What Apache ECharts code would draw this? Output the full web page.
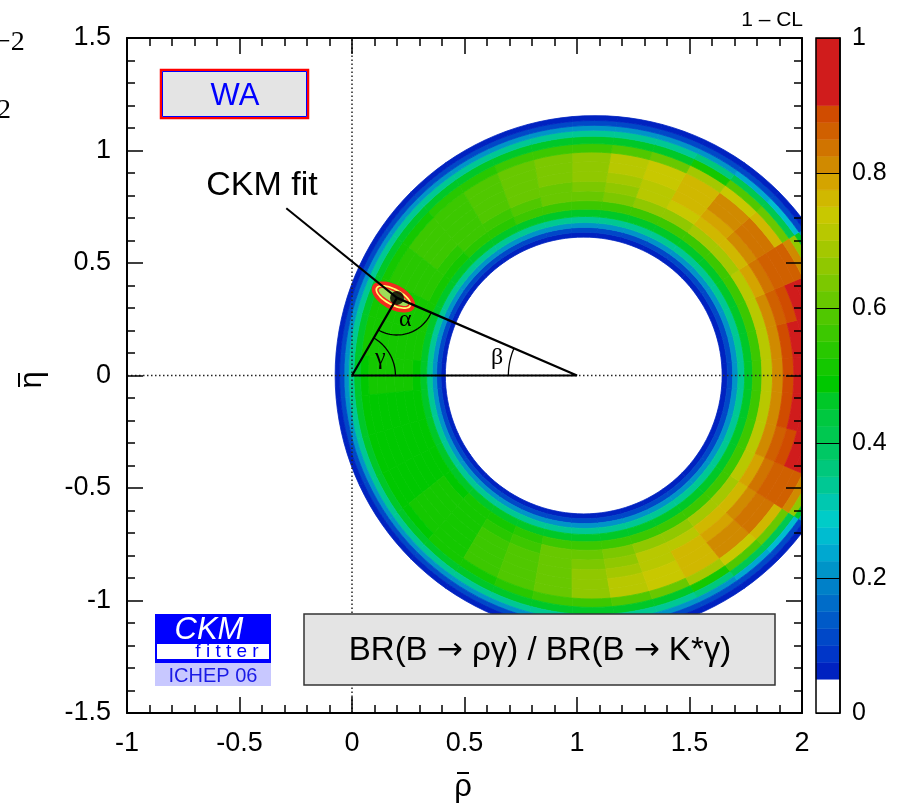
<!DOCTYPE html>
<html><head><meta charset="utf-8">
<script src="https://cdn.jsdelivr.net/npm/echarts@6/dist/echarts.min.js"></script>
<style>html,body{margin:0;padding:0;background:#fff}#c{width:909px;height:803px}</style>
</head><body><div id="c"></div>
<script>
// ---------------- data ----------------
const xRange = [-1, 2];
const yRange = [-1.5, 1.5];
const tickStep = 0.5;
// ring (BR ratio constraint) : boundaries in (rho, eta) plane [centreRho, centreEta, radius]
const innerBoundary = [1.03, 0, 0.615];
const outerBoundary = [1.08, 0, 1.155];
// sectors (deg, centre of sector) and radial bands (fraction inner->outer)
const ringSectorAngles = [0,10,20,30,40,50,60,70,80,90,100,110,120,130,140,150,160,170,180,190,200,210,220,230,240,250,260,270,280,290,300,310,320,330,340,350];
const ringBandEdges = [0,.04,.08,.12,.17,.23,.30,.38,.46,.54,.62,.70,.77,.83,.88,.92,.96,1.0];
// 1 - CL read per sector (rows) and band (columns)
const ringCL = [
 [.07,.10,.20,.33,.45,.57,.70,.80,.89,.93,.95,.96,.95,.88,.70,.40,.12],
 [.07,.10,.20,.33,.45,.57,.70,.80,.88,.92,.94,.95,.93,.85,.65,.35,.12],
 [.07,.10,.20,.33,.45,.57,.70,.80,.86,.89,.91,.92,.88,.75,.55,.28,.10],
 [.07,.10,.20,.33,.45,.57,.70,.78,.83,.86,.87,.86,.80,.65,.45,.22,.09],
 [.07,.10,.20,.33,.45,.57,.69,.76,.80,.83,.84,.75,.60,.42,.25,.12,.07],
 [.07,.10,.20,.33,.45,.57,.68,.75,.79,.81,.81,.74,.58,.40,.23,.11,.07],
 [.07,.10,.20,.33,.45,.57,.67,.73,.76,.77,.76,.68,.52,.37,.22,.10,.07],
 [.07,.10,.20,.33,.45,.57,.66,.70,.72,.74,.73,.62,.47,.34,.20,.10,.07],
 [.07,.10,.20,.33,.45,.57,.64,.67,.69,.70,.70,.58,.45,.33,.20,.10,.07],
 [.07,.10,.20,.33,.45,.57,.62,.64,.66,.67,.67,.57,.45,.33,.20,.10,.07],
 [.07,.10,.20,.33,.45,.56,.60,.62,.63,.64,.64,.56,.45,.33,.20,.10,.07],
 [.07,.10,.20,.33,.45,.55,.58,.60,.61,.61,.61,.55,.45,.33,.20,.10,.07],
 [.07,.10,.20,.33,.45,.54,.57,.58,.59,.59,.59,.54,.45,.33,.20,.10,.07],
 [.07,.10,.20,.33,.45,.53,.55,.56,.57,.57,.57,.53,.45,.33,.20,.10,.07],
 [.07,.10,.20,.33,.45,.52,.54,.55,.55,.55,.55,.52,.45,.33,.20,.10,.07],
 [.07,.10,.20,.33,.45,.51,.53,.53,.53,.53,.53,.51,.45,.33,.20,.10,.07],
 [.07,.10,.20,.33,.45,.50,.52,.52,.52,.52,.52,.50,.45,.33,.20,.10,.07],
 [.07,.10,.20,.33,.45,.50,.51,.51,.51,.51,.51,.50,.45,.33,.20,.10,.07],
 [.07,.10,.20,.33,.45,.49,.50,.50,.50,.50,.50,.49,.45,.33,.20,.10,.07],
 [.07,.10,.20,.33,.45,.48,.49,.49,.49,.49,.49,.48,.45,.33,.20,.10,.07],
 [.07,.10,.20,.33,.45,.48,.49,.49,.49,.49,.49,.48,.45,.33,.20,.10,.07],
 [.07,.10,.20,.33,.45,.48,.49,.49,.49,.49,.49,.48,.45,.33,.20,.10,.07],
 [.07,.10,.20,.33,.45,.49,.50,.50,.50,.50,.50,.49,.45,.33,.20,.10,.07],
 [.07,.10,.20,.33,.45,.50,.52,.52,.52,.52,.52,.50,.45,.33,.20,.10,.07],
 [.07,.10,.20,.33,.45,.52,.54,.55,.55,.55,.55,.52,.45,.33,.20,.10,.07],
 [.07,.10,.20,.33,.45,.54,.57,.58,.58,.58,.58,.54,.45,.33,.20,.10,.07],
 [.07,.10,.20,.33,.45,.56,.60,.61,.62,.62,.62,.56,.45,.33,.20,.10,.07],
 [.07,.10,.20,.33,.45,.57,.62,.64,.65,.66,.66,.57,.45,.33,.20,.10,.07],
 [.07,.10,.20,.33,.45,.57,.64,.67,.69,.70,.70,.58,.45,.33,.20,.10,.07],
 [.07,.10,.20,.33,.45,.57,.66,.70,.72,.73,.73,.62,.47,.34,.20,.10,.07],
 [.07,.10,.20,.33,.45,.57,.67,.72,.75,.77,.76,.68,.52,.37,.22,.10,.07],
 [.07,.10,.20,.33,.45,.57,.68,.75,.78,.80,.80,.74,.58,.40,.23,.11,.07],
 [.07,.10,.20,.33,.45,.57,.69,.76,.80,.83,.83,.75,.60,.42,.25,.12,.07],
 [.07,.10,.20,.33,.45,.57,.70,.78,.83,.86,.87,.86,.80,.65,.45,.22,.09],
 [.07,.10,.20,.33,.45,.57,.70,.80,.86,.89,.91,.92,.88,.75,.55,.28,.10],
 [.07,.10,.20,.33,.45,.57,.70,.80,.88,.92,.94,.95,.93,.85,.65,.35,.12]
];
// CKM fit
const fitPoint = [0.20, 0.345];
const fitCenter = [0.184, 0.349];
const fitSemiAxes = [0.105, 0.055];
const fitTilt = -28;
const triangleBase = [[0, 0], [1, 0]];
const labelAnchor = [-0.292, 0.743];
const angleNames = ['α', 'β', 'γ'];
const angleLabelPos = [[0.237, 0.249], [0.645, 0.080], [0.126, 0.080]];
// colour scale levels (lower bounds) of 1-CL
const clLevels = [0,0.05,0.075,0.1,0.125,0.15,0.175,0.2,0.225,0.25,0.275,0.3,0.325,0.35,0.375,0.4,0.425,0.45,0.475,0.5,0.525,0.55,0.575,0.6,0.625,0.65,0.675,0.7,0.725,0.75,0.775,0.8,0.825,0.85,0.875,0.9];
const colorbarTicks = [0, 0.2, 0.4, 0.6, 0.8, 1];

// ---------------- styles ----------------
const clColors = ['#ffffff','#0022c0','#0036c8','#0048c8','#005ac8','#006cc8','#0080c8','#0094c8','#00a8d0','#00bcd0','#00ccc8','#00c8b0','#00c894','#00c87c','#00c864','#00c850','#00c840','#00c828','#00c800','#14c800','#28c800','#3cc800','#50c800','#68c800','#7cc800','#90c800','#a4c800','#b8c800','#c8c800','#d0b800','#d4a400','#d08a00','#d07400','#d06000','#d04c00','#d01c1c'];
const FONT = "'Liberation Sans', Arial, Helvetica, sans-serif";
const SERIF = "'Liberation Serif', 'DejaVu Serif', serif";

function colorFor(v) {
  let idx = 0;
  for (let i = 0; i < clLevels.length; i++) if (v >= clLevels[i] - 1e-9) idx = i;
  return clColors[idx];
}
function ringPoint(theta, t) {
  const c = Math.cos(theta * Math.PI / 180), s = Math.sin(theta * Math.PI / 180);
  const xi = innerBoundary[0] + innerBoundary[2] * c, yi = innerBoundary[1] + innerBoundary[2] * s;
  const xo = outerBoundary[0] + outerBoundary[2] * c, yo = outerBoundary[1] + outerBoundary[2] * s;
  return [xi + (xo - xi) * t, yi + (yo - yi) * t];
}
const ringData = [];
ringCL.forEach((row, j) => row.forEach((v, k) => ringData.push([j, k, v])));
const halfSector = (ringSectorAngles[1] - ringSectorAngles[0]) / 2;

function frameAxis(kind, pos, showLabel) {
  const isX = kind === 'x';
  return {
    type: 'value', gridIndex: 0, position: pos,
    min: isX ? xRange[0] : yRange[0], max: isX ? xRange[1] : yRange[1], interval: tickStep,
    axisLine: { show: true, onZero: false, lineStyle: { color: '#000', width: 2 } },
    axisTick: { show: true, inside: true, length: 16, lineStyle: { color: '#000', width: 1.5 } },
    minorTick: { show: true, splitNumber: 5, length: 8, lineStyle: { color: '#000', width: 1.5 } },
    splitLine: { show: false }, minorSplitLine: { show: false },
    axisLabel: { show: showLabel, color: '#000', fontSize: 27, fontFamily: FONT, margin: isX ? 17 : 16 },
    z: 10
  };
}

const trianglePath = [triangleBase[0], triangleBase[1], fitPoint, triangleBase[0]];
const arcDefs = [
  { c: fitPoint, a: triangleBase[0], b: triangleBase[1], r: 0.165 },
  { c: triangleBase[1], a: triangleBase[0], b: fitPoint, r: 0.305 },
  { c: triangleBase[0], a: triangleBase[1], b: fitPoint, r: 0.193 }
];

const chart = echarts.init(document.getElementById('c'), null, { renderer: 'canvas' });
const centered = { align: 'center', textAlign: 'center', verticalAlign: 'middle', textVerticalAlign: 'middle' };
const option = {
  animation: false,
  backgroundColor: '#fff',
  grid: [
    { left: 127, right: 107, top: 38, bottom: 90, outerBoundsMode: 'none', containLabel: false },
    { left: 816, width: 24, top: 38, bottom: 90, outerBoundsMode: 'none', containLabel: false }
  ],
  xAxis: [
    frameAxis('x', 'bottom', true),
    frameAxis('x', 'top', false),
    { type: 'value', gridIndex: 1, min: 0, max: 1, show: false }
  ],
  yAxis: [
    frameAxis('y', 'left', true),
    frameAxis('y', 'right', false),
    { type: 'value', gridIndex: 1, min: 0, max: 1, interval: 0.2, position: 'right',
      axisLine: { show: true, onZero: false, lineStyle: { color: '#000', width: 1.5 } },
      axisTick: { show: true, inside: true, length: 24, lineStyle: { color: '#000', width: 1 } },
      splitLine: { show: false },
      axisLabel: { color: '#000', fontSize: 25, fontFamily: FONT, margin: 12,
        formatter: v => colorbarTicks.indexOf(+v.toFixed(1)) >= 0 ? String(+v.toFixed(1)) : '' },
      z: 10 }
  ],
  series: [
    { // 1-CL ring
      type: 'custom', xAxisIndex: 0, yAxisIndex: 0, clip: true, z: 2,
      data: ringData,
      renderItem: function (params, api) {
        const j = api.value(0), k = api.value(1), v = api.value(2);
        const th0 = ringSectorAngles[j] - halfSector, th1 = ringSectorAngles[j] + halfSector;
        const t0 = ringBandEdges[k], t1 = ringBandEdges[k + 1];
        const n = 4, pts = [];
        for (let i = 0; i <= n; i++) pts.push(api.coord(ringPoint(th0 + (th1 - th0) * i / n, t0)));
        for (let i = n; i >= 0; i--) pts.push(api.coord(ringPoint(th0 + (th1 - th0) * i / n, t1)));
        const col = colorFor(v);
        return { type: 'polygon', shape: { points: pts }, style: { fill: col, stroke: col, lineWidth: 0.8 } };
      }
    },
    { type: 'line', xAxisIndex: 0, yAxisIndex: 0, z: 3, symbol: 'none', silent: true,
      data: [[0, yRange[0]], [0, yRange[1]]], lineStyle: { color: '#222', width: 1.5, type: [1.5, 2.5] } },
    { type: 'line', xAxisIndex: 0, yAxisIndex: 0, z: 3, symbol: 'none', silent: true,
      data: [[xRange[0], 0], [xRange[1], 0]], lineStyle: { color: '#222', width: 1.5, type: [1.5, 2.5] } },
    { // CKM fit contour
      type: 'custom', xAxisIndex: 0, yAxisIndex: 0, z: 4, data: [[fitCenter[0], fitCenter[1]]],
      renderItem: function (params, api) {
        const c = api.coord(fitCenter);
        const sc = api.size([1, 1]);
        const T = fitTilt * Math.PI / 180;
        function pts(shrink) {
          const a = fitSemiAxes[0] * sc[0] - shrink, b = fitSemiAxes[1] * sc[1] - shrink;
          const out = [];
          for (let i = 0; i < 60; i++) {
            const f = i / 60 * 2 * Math.PI, u = a * Math.cos(f), w = b * Math.sin(f);
            out.push([c[0] + u * Math.cos(T) - w * Math.sin(T), c[1] - (u * Math.sin(T) + w * Math.cos(T))]);
          }
          return out;
        }
        return { type: 'group', children: [
          { type: 'polygon', shape: { points: pts(0) }, style: { fill: '#f22a1e' } },
          { type: 'polygon', shape: { points: pts(3.8) }, style: { fill: '#ffff70' } },
          { type: 'polygon', shape: { points: pts(5.6) }, style: { fill: '#f22a1e' } },
          { type: 'polygon', shape: { points: pts(7.2) }, style: { fill: '#9ede58' } }
        ] };
      }
    },
    { type: 'line', xAxisIndex: 0, yAxisIndex: 0, z: 5, symbol: 'none', silent: true,
      data: trianglePath, lineStyle: { color: '#000', width: 2.2 } },
    { type: 'line', xAxisIndex: 0, yAxisIndex: 0, z: 5, symbol: 'none', silent: true,
      data: [labelAnchor, fitPoint], lineStyle: { color: '#000', width: 2 } },
    { // angle arcs
      type: 'custom', xAxisIndex: 0, yAxisIndex: 0, z: 5, data: arcDefs.map((d, i) => [d.c[0], d.c[1], i]),
      renderItem: function (params, api) {
        const d = arcDefs[api.value(2)];
        const a0 = Math.atan2(d.a[1] - d.c[1], d.a[0] - d.c[0]);
        const a1 = Math.atan2(d.b[1] - d.c[1], d.b[0] - d.c[0]);
        let diff = a1 - a0;
        while (diff > Math.PI) diff -= 2 * Math.PI;
        while (diff < -Math.PI) diff += 2 * Math.PI;
        const p = [];
        for (let i = 0; i <= 30; i++) {
          const a = a0 + diff * i / 30;
          p.push(api.coord([d.c[0] + d.r * Math.cos(a), d.c[1] + d.r * Math.sin(a)]));
        }
        return { type: 'polyline', shape: { points: p }, style: { stroke: '#000', lineWidth: 1.3, fill: null } };
      }
    },
    { // angle names
      type: 'custom', xAxisIndex: 0, yAxisIndex: 0, z: 6, data: angleLabelPos.map((p, i) => [p[0], p[1], i]),
      renderItem: function (params, api) {
        const p = api.coord([api.value(0), api.value(1)]);
        return { type: 'text', x: p[0], y: p[1], style: Object.assign({ text: angleNames[api.value(2)], font: '24px ' + SERIF, fill: '#000' }, centered) };
      }
    },
    { type: 'scatter', xAxisIndex: 0, yAxisIndex: 0, z: 7, symbol: 'circle', symbolSize: 14, silent: true,
      data: [fitPoint], itemStyle: { color: '#000' } },
    { // colour bar
      type: 'custom', xAxisIndex: 2, yAxisIndex: 2, z: 2, data: clLevels.map((v, i) => [i]),
      renderItem: function (params, api) {
        const i = api.value(0);
        const lo = clLevels[i], hi = i + 1 < clLevels.length ? clLevels[i + 1] : 1;
        const p0 = api.coord([0, hi]), p1 = api.coord([1, lo]);
        return { type: 'rect', shape: { x: p0[0], y: p0[1], width: p1[0] - p0[0], height: p1[1] - p0[1] },
          style: { fill: clColors[i], stroke: clColors[i], lineWidth: 0.5 } };
      }
    },
    { // colour bar frame
      type: 'custom', xAxisIndex: 2, yAxisIndex: 2, z: 3, data: [[0]],
      renderItem: function (params, api) {
        const p0 = api.coord([0, 1]), p1 = api.coord([1, 0]);
        return { type: 'rect', shape: { x: p0[0], y: p0[1], width: p1[0] - p0[0], height: p1[1] - p0[1] },
          style: { fill: null, stroke: '#000', lineWidth: 1.5 } };
      }
    }
  ],
  graphic: [
    { type: 'text', x: -5, y: 43, style: { text: '−2', font: '28px ' + SERIF, fill: '#000', verticalAlign: 'middle', textVerticalAlign: 'middle' } },
    { type: 'text', x: -3, y: 111, style: { text: '2', font: '28px ' + SERIF, fill: '#000', verticalAlign: 'middle', textVerticalAlign: 'middle' } },
    { type: 'text', x: 803, y: 20, style: { text: '1 – CL', font: '21px ' + FONT, fill: '#000', align: 'right', textAlign: 'right', verticalAlign: 'middle', textVerticalAlign: 'middle' } },
    { type: 'group', x: 463, y: 787, children: [
      { type: 'text', x: 0, y: 0, style: Object.assign({ text: 'ρ', font: '31px ' + FONT, fill: '#000' }, centered) },
      { type: 'line', shape: { x1: -6, y1: -14, x2: 6, y2: -14 }, style: { stroke: '#000', lineWidth: 2 } }
    ] },
    { type: 'group', x: 32, y: 380, rotation: Math.PI / 2, children: [
      { type: 'text', x: 0, y: 0, style: Object.assign({ text: 'η', font: '31px ' + FONT, fill: '#000' }, centered) },
      { type: 'line', shape: { x1: -7, y1: -13, x2: 7, y2: -13 }, style: { stroke: '#000', lineWidth: 2 } }
    ] },
    // WA box
    { type: 'rect', shape: { x: 161, y: 70, width: 147, height: 48 }, style: { fill: '#e4e4e4', stroke: '#ff0000', lineWidth: 2.5 }, z: 20 },
    { type: 'rect', shape: { x: 162.5, y: 71.5, width: 144, height: 45 }, style: { fill: null, stroke: '#0000ff', lineWidth: 1 }, z: 21 },
    { type: 'text', x: 235, y: 96, z: 22, style: Object.assign({ text: 'WA', font: '31px ' + FONT, fill: '#0000ff' }, centered) },
    // CKM fit label
    { type: 'text', x: 262, y: 186, z: 22, style: Object.assign({ text: 'CKM fit', font: '34px ' + FONT, fill: '#000' }, centered) },
    // BR box
    { type: 'rect', shape: { x: 304, y: 614, width: 471, height: 71 }, style: { fill: '#e4e4e4', stroke: '#333', lineWidth: 1.5 }, z: 20 },
    { type: 'text', x: 540, y: 651, z: 22, style: Object.assign({
        text: 'BR(B {a|→} ργ) / BR(B {a|→} K*γ)', font: '33px ' + FONT, fill: '#000',
        rich: { a: { fontFamily: "'DejaVu Sans', sans-serif", fontSize: 31, fill: '#000' } } }, centered) },
    // CKMfitter logo
    { type: 'rect', shape: { x: 155, y: 614, width: 116, height: 49 }, style: { fill: '#0000ff' }, z: 20 },
    { type: 'rect', shape: { x: 157, y: 644, width: 112, height: 15 }, style: { fill: '#ffffff' }, z: 21 },
    { type: 'rect', shape: { x: 155, y: 663, width: 116, height: 23 }, style: { fill: '#c8c8ff' }, z: 21 },
    { type: 'text', x: 209, y: 630, z: 22, style: Object.assign({ text: 'CKM', font: 'italic 31px ' + FONT, fill: '#ffffff' }, centered) },
    { type: 'text', x: 227, y: 652, z: 22, style: Object.assign({ text: 'f i t t e r', font: '19px ' + FONT, fill: '#0000ff' }, centered) },
    { type: 'text', x: 213, y: 676, z: 22, style: Object.assign({ text: 'ICHEP 06', font: '20px ' + FONT, fill: '#1a1ae6' }, centered) }
  ]
};
chart.setOption(option);
</script>
</body></html>
